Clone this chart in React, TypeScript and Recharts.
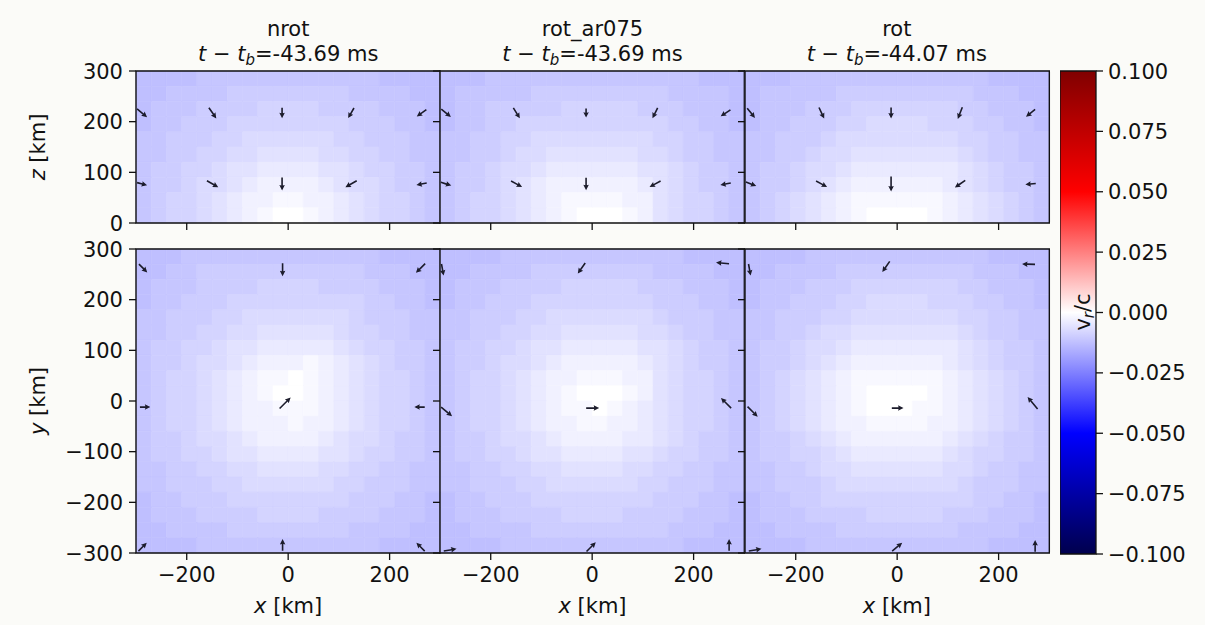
import React from 'react';
import { ScatterChart, Scatter, XAxis, YAxis, ReferenceArea } from 'recharts';

const FONT = '"DejaVu Sans", Verdana, sans-serif';
const BG = '#fbfbf8';
const INK = '#111111';
const ARROW_INK = '#1c1c2c';

// ---- categories / labels ----
const panelNames = ['nrot', 'rot_ar075', 'rot'];
const panelTimes = ['-43.69', '-43.69', '-44.07'];

// ---- tick labels ----
const xTicks = [-200, 0, 200];
const zTicks = [0, 100, 200, 300];
const yTicks = [-300, -200, -100, 0, 100, 200, 300];
const cbarTicks = [-0.1, -0.075, -0.05, -0.025, 0, 0.025, 0.05, 0.075, 0.1];

// ---- colour scale ----
const VMIN = -0.1;
const VMAX = 0.1;
const LEVEL_STEP = 0.0014; // v_r/c per digit in the grids below (negative: infall)
const CELL_KM = 30;

// ---- heat-map grids (digit = -v_r/c / LEVEL_STEP), first row = top of panel ----
const nrotXZ = [
  '99998888888888889999',
  '99888877777777888899',
  '98887777666677778889',
  '98877766666666777889',
  '88777665555556677788',
  '88776655444455667788',
  '87766544333344566778',
  '87765543222234556778',
  '87665432211223456678',
  '87665432100123456678',
];
const rotAr075XZ = [
  '99988888888888888999',
  '98888877777777788889',
  '98877777666667778889',
  '98877666666666677889',
  '88776655555555667788',
  '88776554444445567788',
  '87765543333334456778',
  '87765432222223456778',
  '87665432111122456678',
  '87665432100012456678',
];
const rotXZ = [
  '99988888888888889999',
  '98888877777777788899',
  '98887776666666778889',
  '98877766555566677889',
  '88777655555555667788',
  '88776554444444567788',
  '87765543333333456778',
  '87765432222223456778',
  '87654321111112345678',
  '87654321000012345678',
];
const nrotXY = [
  '99988888888888889999',
  '99887777777777788899',
  '98887777666677778889',
  '98877766666666677889',
  '88777665555555677788',
  '88776655444445667788',
  '87766544333334566778',
  '87765543222123456778',
  '87665432110123456678',
  '87665432100123456678',
  '87665432211123456678',
  '87665432221223456678',
  '87765543222234556778',
  '87766544333344566778',
  '88776655444455667788',
  '88777665555556677788',
  '98877766666666777889',
  '98887777666677778889',
  '99888877777777888899',
  '99998888888888889999',
];
const rotAr075XY = [
  '99998888888888889999',
  '99888877777777888899',
  '98887777666667778889',
  '98877766666666777889',
  '88777665555555677788',
  '88776655444445567788',
  '87766544333334456778',
  '87765543222223456778',
  '87665432211122456678',
  '87665432100012456678',
  '87665432110123456678',
  '87665432211223456678',
  '87765543222233456778',
  '87766544333344566778',
  '88776655444455667788',
  '88777665555556677788',
  '98877766666666777889',
  '98887777666677778889',
  '99888877777777788899',
  '99998888888888889999',
];
const rotXY = [
  '99998888888888889999',
  '99888877777777788899',
  '98887776666666778889',
  '98877766555566677889',
  '88777665555555667788',
  '88776554444444567788',
  '87765543333333456778',
  '87765432222223456778',
  '87654321111112345678',
  '87654321000012345678',
  '87654321000112345678',
  '87654322111122345678',
  '87765432222223456778',
  '87766543333334566778',
  '88776554444445567788',
  '88777655555555677788',
  '98877666666666677889',
  '98887777666667778889',
  '99888877777777888899',
  '99998888888888889999',
];

// ---- velocity arrows (quiver), x / y(or z) in km, u / v relative ----
type Arrow = { x: number; y: number; u: number; v: number };
const nrotXZArrows: Arrow[] = [
  { x: -288, y: 217, u: 0.77, v: -0.64 },
  { x: -149, y: 217, u: 0.57, v: -0.82 },
  { x: -12, y: 217, u: 0, v: -0.8 },
  { x: 124, y: 217, u: -0.45, v: -0.78 },
  { x: 263, y: 217, u: -0.74, v: -0.52 },
  { x: -288, y: 77, u: 0.77, v: -0.21 },
  { x: -149, y: 77, u: 0.87, v: -0.5 },
  { x: -12, y: 77, u: 0, v: -1.0 },
  { x: 124, y: 77, u: -0.87, v: -0.5 },
  { x: 263, y: 77, u: -0.79, v: -0.14 },
];
const rotAr075XZArrows: Arrow[] = [
  { x: -288, y: 217, u: 0.74, v: -0.6 },
  { x: -149, y: 217, u: 0.5, v: -0.8 },
  { x: -12, y: 217, u: 0, v: -0.7 },
  { x: 124, y: 217, u: -0.4, v: -0.8 },
  { x: 263, y: 217, u: -0.75, v: -0.5 },
  { x: -288, y: 77, u: 0.8, v: -0.25 },
  { x: -149, y: 77, u: 0.85, v: -0.45 },
  { x: -12, y: 77, u: 0, v: -0.95 },
  { x: 124, y: 77, u: -0.85, v: -0.45 },
  { x: 263, y: 77, u: -0.8, v: -0.15 },
];
const rotXZArrows: Arrow[] = [
  { x: -288, y: 217, u: 0.6, v: -0.75 },
  { x: -149, y: 217, u: 0.4, v: -0.85 },
  { x: -12, y: 217, u: 0, v: -0.85 },
  { x: 124, y: 217, u: -0.35, v: -0.9 },
  { x: 263, y: 217, u: -0.7, v: -0.55 },
  { x: -288, y: 77, u: 0.8, v: -0.3 },
  { x: -149, y: 77, u: 0.85, v: -0.45 },
  { x: -12, y: 77, u: 0, v: -1.15 },
  { x: 124, y: 77, u: -0.8, v: -0.55 },
  { x: 263, y: 77, u: -0.8, v: -0.08 },
];
const nrotXYArrows: Arrow[] = [
  { x: -286, y: 262, u: 0.64, v: -0.64 },
  { x: -11, y: 259, u: 0, v: -1.0 },
  { x: 261, y: 262, u: -0.71, v: -0.71 },
  { x: -282, y: -12, u: 0.8, v: 0 },
  { x: -6, y: -4, u: 0.85, v: 0.85 },
  { x: 259, y: -12, u: -0.8, v: 0 },
  { x: -287, y: -288, u: 0.64, v: 0.64 },
  { x: -11, y: -284, u: 0, v: 0.9 },
  { x: 261, y: -288, u: -0.64, v: 0.64 },
];
const rotAr075XYArrows: Arrow[] = [
  { x: -295, y: 259, u: 0.16, v: -0.89 },
  { x: -21, y: 262, u: -0.57, v: -0.82 },
  { x: 257, y: 272, u: -1.0, v: 0.09 },
  { x: -287, y: -21, u: 0.84, v: -0.71 },
  { x: 1, y: -14, u: 1.0, v: 0 },
  { x: 264, y: -4, u: -0.78, v: 0.78 },
  { x: -280, y: -294, u: 0.98, v: 0.17 },
  { x: -2, y: -288, u: 0.71, v: 0.71 },
  { x: 270, y: -284, u: 0, v: 0.9 },
];
const rotXYArrows: Arrow[] = [
  { x: -291, y: 259, u: 0.16, v: -0.89 },
  { x: -22, y: 265, u: -0.57, v: -0.82 },
  { x: 259, y: 270, u: -1.0, v: 0.03 },
  { x: -285, y: -21, u: 0.78, v: -0.78 },
  { x: 1, y: -14, u: 0.9, v: 0 },
  { x: 267, y: -4, u: -0.77, v: 0.92 },
  { x: -280, y: -294, u: 0.98, v: 0.17 },
  { x: 0, y: -288, u: 0.77, v: 0.64 },
  { x: 272, y: -286, u: 0, v: 0.9 },
];

// colorbar anchor point (keeps the colorbar chart's axes populated)
const cbarAnchor = [{ x: 0.5, y: 0 }];

const topGrids = [nrotXZ, rotAr075XZ, rotXZ];
const bottomGrids = [nrotXY, rotAr075XY, rotXY];
const topArrows = [nrotXZArrows, rotAr075XZArrows, rotXZArrows];
const bottomArrows = [nrotXYArrows, rotAr075XYArrows, rotXYArrows];

// ---- layout ----
const PLOT_LEFTS = [136, 440.33, 744.67];
const PLOT_W = 304.33;
const ROW_TOP = [71, 249];
const ROW_H = [152, 304];
const TICK_LEN = 7;
const FS = 21;

// seismic colormap
const SEISMIC: [number, number, number, number][] = [
  [0, 0, 0, 0.3],
  [0.25, 0, 0, 1],
  [0.5, 1, 1, 1],
  [0.75, 1, 0, 0],
  [1, 0.5, 0, 0],
];
function seismic(v: number): string {
  const t = Math.max(0, Math.min(1, (v - VMIN) / (VMAX - VMIN)));
  for (let k = 0; k < SEISMIC.length - 1; k++) {
    const a = SEISMIC[k];
    const b = SEISMIC[k + 1];
    if (t <= b[0]) {
      const f = (t - a[0]) / (b[0] - a[0]);
      const r = Math.round(255 * (a[1] + f * (b[1] - a[1])));
      const g = Math.round(255 * (a[2] + f * (b[2] - a[2])));
      const bl = Math.round(255 * (a[3] + f * (b[3] - a[3])));
      return `rgb(${r},${g},${bl})`;
    }
  }
  return 'rgb(128,0,0)';
}

const fmtInt = (v: number) => String(v).replace('-', '\u2212');
const fmtCbar = (v: number) => (Math.abs(v) < 1e-9 ? '0.000' : v.toFixed(3).replace('-', '\u2212'));

const EmptyTick = () => <g />;
const YTick = (p: any) => (
  <text x={p.x} y={p.y} dy={7.6} textAnchor="end" fontSize={FS} fontFamily={FONT} fill={INK}>
    {fmtInt(p.payload.value)}
  </text>
);
const XTick = (p: any) => (
  <text x={p.x} y={p.y} dy={15.3} textAnchor="middle" fontSize={FS} fontFamily={FONT} fill={INK}>
    {fmtInt(p.payload.value)}
  </text>
);
const CTick = (p: any) => (
  <text x={p.x} y={p.y} dy={7.6} textAnchor="start" fontSize={FS} fontFamily={FONT} fill={INK}>
    {fmtCbar(p.payload.value)}
  </text>
);

const ARROW_LEN = 13;
const SHAFT = 1.6;
const HEAD_W = 5.5;
const HEAD_L = 5.5;
function ArrowShape(props: any) {
  const { cx, cy, payload } = props;
  if (cx == null || cy == null || !payload) return <g />;
  const mag = Math.hypot(payload.u, payload.v);
  const L = ARROW_LEN * mag;
  const ang = (Math.atan2(-payload.v, payload.u) * 180) / Math.PI;
  const h = L / 2;
  const hl = Math.min(HEAD_L, L * 0.6);
  const pts = [
    [-h, -SHAFT / 2],
    [h - hl * 0.9, -SHAFT / 2],
    [h - hl, -HEAD_W / 2],
    [h, 0],
    [h - hl, HEAD_W / 2],
    [h - hl * 0.9, SHAFT / 2],
    [-h, SHAFT / 2],
  ];
  return (
    <polygon
      points={pts.map((q) => `${q[0].toFixed(2)},${q[1].toFixed(2)}`).join(' ')}
      transform={`translate(${cx},${cy}) rotate(${ang})`}
      fill={ARROW_INK}
    />
  );
}
const NoShape = () => <g />;

function Panel({ grid, arrows, row, col }: { grid: string[]; arrows: Arrow[]; row: number; col: number }) {
  const plotLeft = PLOT_LEFTS[col];
  const plotTop = ROW_TOP[row];
  const plotH = ROW_H[row];
  const yDomain: [number, number] = row === 0 ? [0, 300] : [-300, 300];
  const yAxisW = col === 0 ? 76 : 12;
  const mTop = 14;
  const mRight = 4;
  const xAxisH = row === 1 ? 36 : 12;
  const width = yAxisW + PLOT_W + mRight;
  const height = mTop + plotH + xAxisH;
  const nCols = 600 / CELL_KM;

  const cells: React.ReactNode[] = [];
  grid.forEach((rowStr, j) => {
    const yTop = yDomain[1] - j * CELL_KM;
    for (let i = 0; i < nCols; i++) {
      const ch = i < rowStr.length ? rowStr[i] : rowStr[rowStr.length - 1];
      const val = -LEVEL_STEP * Number(ch);
      const color = seismic(val);
      cells.push(
        <ReferenceArea
          key={`c-${i}-${j}`}
          x1={-300 + i * CELL_KM}
          x2={-300 + (i + 1) * CELL_KM}
          y1={yTop - CELL_KM}
          y2={yTop}
          fill={color}
          fillOpacity={1}
          stroke={color}
          strokeWidth={0.6}
          ifOverflow="visible"
        />
      );
    }
  });

  return (
    <div style={{ position: 'absolute', left: plotLeft - yAxisW, top: plotTop - mTop }}>
      <ScatterChart width={width} height={height} margin={{ top: mTop, right: mRight, bottom: 0, left: 0 }}>
        <XAxis
          type="number"
          dataKey="x"
          domain={[-300, 300]}
          ticks={xTicks}
          interval={0}
          allowDataOverflow
          height={xAxisH}
          axisLine={false}
          tickLine={{ stroke: INK, strokeWidth: 1.3 }}
          tickSize={TICK_LEN}
          tickMargin={7}
          tick={row === 1 ? XTick : EmptyTick}
        />
        <YAxis
          type="number"
          dataKey="y"
          domain={yDomain}
          ticks={row === 0 ? zTicks : yTicks}
          interval={0}
          allowDataOverflow
          width={yAxisW}
          axisLine={false}
          tickLine={{ stroke: INK, strokeWidth: 1.3 }}
          tickSize={TICK_LEN}
          tickMargin={6}
          tick={col === 0 ? YTick : EmptyTick}
        />
        {cells}
        <Scatter data={arrows} shape={ArrowShape} isAnimationActive={false} />
        <ReferenceArea
          x1={-300}
          x2={300}
          y1={yDomain[0]}
          y2={yDomain[1]}
          fill="none"
          fillOpacity={0}
          stroke={INK}
          strokeWidth={1.4}
          ifOverflow="visible"
        />
      </ScatterChart>
    </div>
  );
}

function Colorbar() {
  const left = 1060;
  const top = 71;
  const w = 36;
  const h = 483;
  const axisW = 100;
  const m = 14;
  return (
    <div style={{ position: 'absolute', left, top: top - m }}>
      <ScatterChart width={w + axisW} height={h + 2 * m} margin={{ top: m, right: 0, bottom: m, left: 0 }}>
        <XAxis type="number" dataKey="x" domain={[0, 1]} allowDataOverflow hide />
        <YAxis
          type="number"
          dataKey="y"
          orientation="right"
          domain={[VMIN, VMAX]}
          ticks={cbarTicks}
          interval={0}
          allowDataOverflow
          width={axisW}
          axisLine={false}
          tickLine={{ stroke: INK, strokeWidth: 1.3 }}
          tickSize={TICK_LEN}
          tickMargin={5}
          tick={CTick}
        />
        <ReferenceArea
          x1={0}
          x2={1}
          y1={VMIN}
          y2={VMAX}
          fill="url(#seismicGrad)"
          fillOpacity={1}
          stroke={INK}
          strokeWidth={1.3}
          ifOverflow="visible"
        />
        <Scatter data={cbarAnchor} shape={NoShape} isAnimationActive={false} />
      </ScatterChart>
    </div>
  );
}

export default function App() {
  const centers = PLOT_LEFTS.map((l) => l + PLOT_W / 2);
  return (
    <div
      style={{
        position: 'absolute',
        left: 0,
        top: 0,
        width: 1205,
        height: 625,
        background: BG,
        fontFamily: FONT,
        overflow: 'hidden',
      }}
    >
      <svg width={10} height={10} style={{ position: 'absolute', left: 0, top: 0 }}>
        <defs>
          <linearGradient id="seismicGrad" x1="0" y1="0" x2="0" y2="1">
            <stop offset="0%" stopColor="rgb(128,0,0)" />
            <stop offset="25%" stopColor="rgb(255,0,0)" />
            <stop offset="50%" stopColor="rgb(255,255,255)" />
            <stop offset="75%" stopColor="rgb(0,0,255)" />
            <stop offset="100%" stopColor="rgb(0,0,77)" />
          </linearGradient>
        </defs>
      </svg>
      {[0, 1, 2].map((c) => (
        <Panel key={`t${c}`} grid={topGrids[c]} arrows={topArrows[c]} row={0} col={c} />
      ))}
      {[0, 1, 2].map((c) => (
        <Panel key={`b${c}`} grid={bottomGrids[c]} arrows={bottomArrows[c]} row={1} col={c} />
      ))}
      <Colorbar />
      <svg
        width={1205}
        height={625}
        style={{ position: 'absolute', left: 0, top: 0, pointerEvents: 'none' }}
        fontFamily={FONT}
        fontSize={FS}
        fill={INK}
      >
        {centers.map((cx, i) => (
          <g key={`title${i}`}>
            <text x={cx} y={36} textAnchor="middle">
              {panelNames[i]}
            </text>
            <text x={cx} y={61} textAnchor="middle">
              <tspan fontStyle="italic">t</tspan>
              <tspan>{' \u2212 '}</tspan>
              <tspan fontStyle="italic">t</tspan>
              <tspan fontStyle="italic" fontSize={15} dy={4}>
                b
              </tspan>
              <tspan dy={-4}>{`=${panelTimes[i]} ms`}</tspan>
            </text>
            <text x={cx} y={613} textAnchor="middle">
              <tspan fontStyle="italic">x</tspan>
              <tspan>{' [km]'}</tspan>
            </text>
          </g>
        ))}
        <text transform="translate(45,147) rotate(-90)" textAnchor="middle">
          <tspan fontStyle="italic">z</tspan>
          <tspan>{' [km]'}</tspan>
        </text>
        <text transform="translate(45,401) rotate(-90)" textAnchor="middle">
          <tspan fontStyle="italic">y</tspan>
          <tspan>{' [km]'}</tspan>
        </text>
        <text transform="translate(1090,312) rotate(-90)" textAnchor="middle">
          <tspan>v</tspan>
          <tspan fontStyle="italic" fontSize={15} dy={4}>
            r
          </tspan>
          <tspan dy={-4}>/c</tspan>
        </text>
      </svg>
    </div>
  );
}
